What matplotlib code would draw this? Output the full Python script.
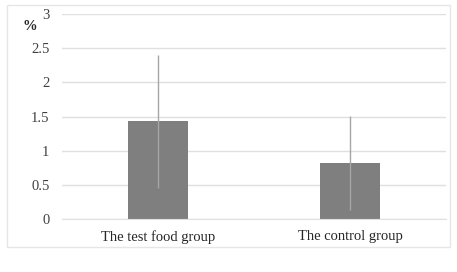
import matplotlib
matplotlib.use("Agg")
import matplotlib.pyplot as plt
from matplotlib.patches import Rectangle

categories = ["The test food group", "The control group"]
means = [1.43, 0.82]
sds = [0.97, 0.69]
yticks = [0, 0.5, 1, 1.5, 2, 2.5, 3]
ytick_labels = ["0", "0.5", "1", "1.5", "2", "2.5", "3"]

plt.rcParams['font.family'] = ['Liberation Serif', 'DejaVu Serif']

fig = plt.figure(figsize=(4.57, 2.72), dpi=100)
fig.patch.set_facecolor("white")
fig.patches.append(Rectangle((7/457, 1-247/272), 443/457, 242/272, transform=fig.transFigure,
                             fill=False, edgecolor="#e6e6e6", linewidth=1.0))

ax = fig.add_axes([62/457, 1-219/272, 384/457, 205/272])
x = list(range(len(categories)))
ax.bar(x, means, width=0.31, color="#7f7f7f", zorder=2)
ax.errorbar(x, means, yerr=sds, fmt="none", ecolor="#a6a6a6", elinewidth=1.0, capsize=0, zorder=3)

ax.set_xlim(-0.5, len(categories) - 0.5)
ax.set_ylim(0, 3)
ax.set_yticks(yticks)
ax.set_yticklabels(ytick_labels, fontsize=10.5, color="#404040")
ax.set_xticks(x)
ax.set_xticklabels(categories, fontsize=10.5, color="#262626")
ax.tick_params(axis="both", length=0)
ax.tick_params(axis="y", pad=9)
ax.tick_params(axis="x", pad=8)
ax.grid(axis="y", color="#e0e0e0", linewidth=1.0, zorder=0)
ax.set_axisbelow(True)
for s in ["top", "right", "left"]:
    ax.spines[s].set_visible(False)
ax.spines["bottom"].set_color("#e0e0e0")

fig.text(22/457, 1-26/272, "%", fontsize=10.5, fontweight="bold", color="#262626", va="center", ha="left")

fig.savefig("out.png", dpi=100)
